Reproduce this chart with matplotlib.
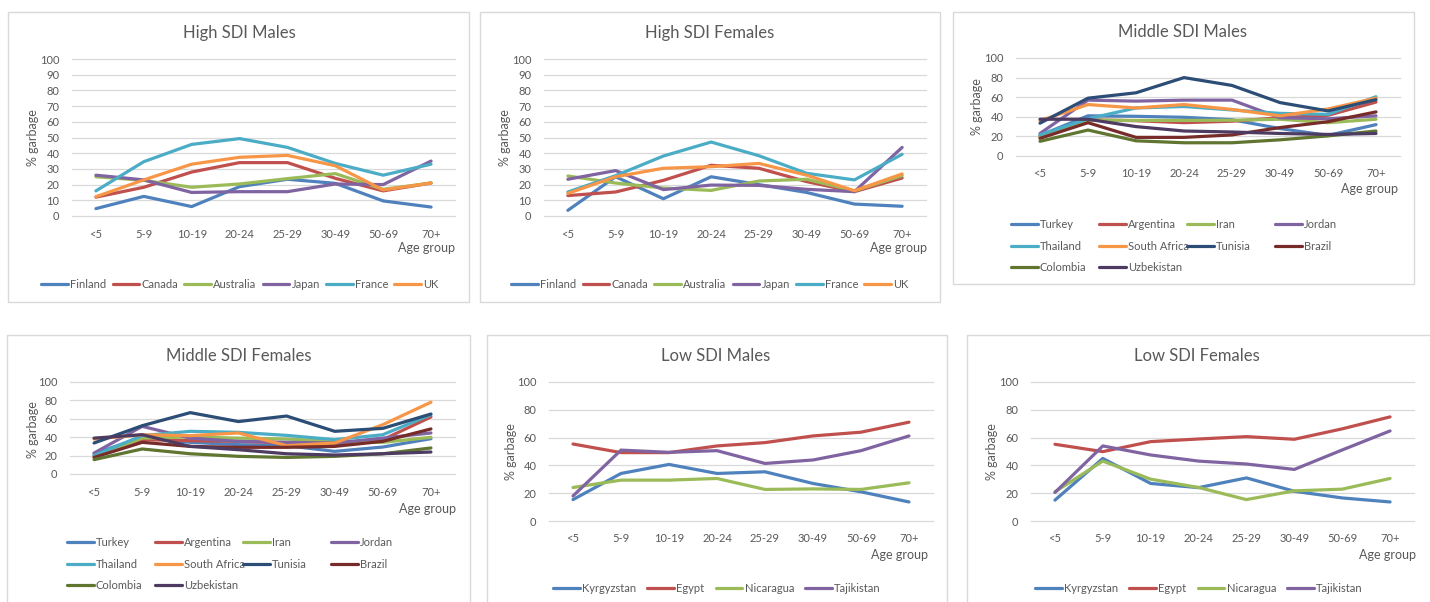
import matplotlib
matplotlib.use("Agg")
import matplotlib.pyplot as plt
from matplotlib.patches import Rectangle

plt.rcParams['font.family'] = ['Lato', 'DejaVu Sans']

W, H = 1430, 602

age_groups = ["<5", "5-9", "10-19", "20-24", "25-29", "30-49", "50-69", "70+"]

high_countries = ["Finland", "Canada", "Australia", "Japan", "France", "UK"]
high_colors = ["#4F81BD", "#C0504D", "#9BBB59", "#8064A2", "#4BACC6", "#F79646"]

high_males = {
    "Finland":   [4.7, 12.5, 6.0, 18.7, 23.4, 20.8, 9.6, 5.7],
    "Canada":    [12.0, 18.3, 28.0, 34.0, 34.0, 24.0, 16.0, 21.0],
    "Australia": [25.0, 22.7, 18.3, 20.4, 23.8, 27.0, 17.0, 21.0],
    "Japan":     [26.0, 23.0, 15.0, 15.5, 15.5, 20.4, 20.0, 35.0],
    "France":    [16.0, 34.6, 45.6, 49.3, 43.7, 33.5, 26.0, 33.0],
    "UK":        [12.3, 23.0, 33.0, 37.4, 38.6, 32.0, 16.6, 21.0],
}

high_females = {
    "Finland":   [3.6, 25.0, 11.0, 25.0, 20.0, 15.0, 7.6, 6.2],
    "Canada":    [13.0, 15.3, 22.7, 32.3, 30.4, 21.9, 15.5, 24.2],
    "Australia": [25.5, 21.0, 17.8, 16.3, 22.3, 23.4, 16.0, 25.7],
    "Japan":     [23.4, 28.9, 16.8, 19.7, 19.5, 17.0, 15.5, 43.7],
    "France":    [15.3, 25.7, 38.2, 47.1, 38.4, 27.2, 23.0, 39.3],
    "UK":        [14.4, 25.0, 30.4, 31.4, 33.5, 26.0, 16.1, 26.8],
}

middle_countries = ["Turkey", "Argentina", "Iran", "Jordan", "Thailand",
                    "South Africa", "Tunisia", "Brazil", "Colombia", "Uzbekistan"]
middle_colors = ["#4F81BD", "#C0504D", "#9BBB59", "#8064A2", "#4BACC6",
                 "#F79646", "#2C4D75", "#772C2A", "#5F7530", "#4D3B62"]

middle_males = {
    "Turkey":       [21.0, 41.0, 40.5, 39.5, 37.0, 28.0, 21.0, 32.0],
    "Argentina":    [20.0, 37.0, 36.0, 34.0, 35.5, 39.0, 41.5, 55.0],
    "Iran":         [19.0, 36.5, 36.3, 36.3, 36.5, 37.5, 34.0, 37.5],
    "Jordan":       [23.0, 57.0, 56.0, 57.0, 57.0, 39.0, 38.0, 41.0],
    "Thailand":     [21.5, 38.0, 49.0, 50.5, 47.0, 43.5, 42.5, 60.5],
    "South Africa": [36.0, 52.5, 49.0, 52.5, 47.5, 41.0, 48.0, 59.0],
    "Tunisia":      [33.5, 59.0, 64.5, 80.0, 72.0, 54.5, 46.0, 57.5],
    "Brazil":       [18.0, 34.0, 19.0, 19.0, 21.5, 29.0, 35.0, 45.0],
    "Colombia":     [15.0, 26.5, 15.5, 13.5, 13.5, 16.5, 20.5, 25.5],
    "Uzbekistan":   [37.5, 37.5, 30.0, 25.5, 24.5, 23.0, 22.0, 23.0],
}

middle_females = {
    "Turkey":       [22.0, 40.2, 34.4, 31.9, 30.8, 24.6, 29.3, 38.4],
    "Argentina":    [20.0, 37.3, 36.2, 35.5, 33.7, 31.9, 37.3, 62.0],
    "Iran":         [19.0, 39.0, 40.2, 39.0, 38.0, 35.5, 34.4, 39.9],
    "Jordan":       [22.8, 51.8, 39.0, 35.5, 34.4, 33.7, 39.0, 44.6],
    "Thailand":     [20.0, 41.7, 46.4, 45.3, 42.0, 37.3, 42.7, 64.5],
    "South Africa": [38.0, 42.7, 41.7, 44.6, 30.8, 33.7, 53.6, 78.0],
    "Tunisia":      [33.7, 52.5, 66.7, 57.0, 63.0, 46.4, 49.6, 65.2],
    "Brazil":       [18.0, 34.4, 30.0, 29.0, 29.0, 30.0, 35.5, 49.0],
    "Colombia":     [15.6, 27.2, 22.0, 19.2, 18.0, 19.2, 22.0, 28.3],
    "Uzbekistan":   [39.0, 42.7, 30.0, 26.4, 22.0, 20.6, 22.0, 23.9],
}

low_countries = ["Kyrgyzstan", "Egypt", "Nicaragua", "Tajikistan"]
low_colors = ["#4F81BD", "#C0504D", "#9BBB59", "#8064A2"]

low_males = {
    "Kyrgyzstan": [15.4, 34.2, 40.7, 34.2, 35.4, 27.0, 21.0, 13.7],
    "Egypt":      [55.4, 49.2, 49.2, 54.0, 56.4, 61.2, 63.9, 71.1],
    "Nicaragua":  [24.1, 29.4, 29.4, 30.6, 22.7, 23.1, 22.7, 27.5],
    "Tajikistan": [18.0, 51.0, 49.4, 50.6, 41.4, 43.9, 50.6, 61.2],
}

low_females = {
    "Kyrgyzstan": [15.0, 45.0, 27.0, 24.0, 31.0, 21.4, 16.6, 13.7],
    "Egypt":      [55.2, 49.9, 57.1, 59.0, 60.7, 58.8, 66.3, 74.9],
    "Nicaragua":  [21.0, 43.1, 30.1, 24.1, 15.4, 21.7, 22.9, 30.6],
    "Tajikistan": [20.5, 54.0, 47.5, 43.1, 41.0, 37.1, 51.1, 64.8],
}

TEXT = "#595959"
GRID = "#D9D9D9"

fig = plt.figure(figsize=(W / 100, H / 100), dpi=100)
fig.patch.set_facecolor("white")


def fx(x):
    return x / W


def fy(y):
    return 1 - y / H


def frame(x0, y0, x1, y1):
    fig.patches.append(Rectangle((fx(x0), fy(y1)), fx(x1 - x0), (y1 - y0) / H,
                                 transform=fig.transFigure, fill=False,
                                 edgecolor=GRID, lw=1.0, zorder=0))


def panel(box, plot, title, title_xy, ylab_xy, age_xy, data, countries, colors,
          ystep):
    frame(*box)
    x0, y0, x1, y1 = plot
    ax = fig.add_axes([fx(x0), fy(y1), fx(x1 - x0), (y1 - y0) / H])
    handles = []
    for name, col in zip(countries, colors):
        ln, = ax.plot(range(len(age_groups)), data[name], color=col, lw=2.3,
                      solid_joinstyle="round", solid_capstyle="round",
                      label=name, clip_on=False)
        handles.append(ln)
    ax.set_xlim(-0.5, len(age_groups) - 0.5)
    ax.set_ylim(0, 100)
    ax.set_yticks(range(0, 101, ystep))
    ax.set_xticks(range(len(age_groups)))
    ax.set_xticklabels(age_groups)
    for s in ax.spines.values():
        s.set_visible(False)
    ax.grid(axis="y", color=GRID, lw=0.9)
    for gl in ax.get_ygridlines():
        gl.set_clip_on(False)
    ax.set_axisbelow(True)
    ax.tick_params(axis="both", length=0, labelsize=8, labelcolor=TEXT)
    ax.tick_params(axis="y", pad=9)
    ax.tick_params(axis="x", pad=9)
    fig.text(fx(title_xy[0]), fy(title_xy[1]), title, ha="center", va="center",
             fontsize=12, color=TEXT)
    fig.text(fx(ylab_xy[0]), fy(ylab_xy[1]), "% garbage", ha="center",
             va="center", rotation=90, fontsize=9, color=TEXT)
    fig.text(fx(age_xy[0]), fy(age_xy[1]), "Age group", ha="right",
             va="center", fontsize=9, color=TEXT)
    return handles


leg_kw = dict(frameon=False, fontsize=8, handlelength=2.4, handletextpad=0.2,
              borderpad=0, borderaxespad=0, labelcolor=TEXT)


def row_legend(handles, labels, cx, cy, colspace):
    fig.legend(handles, labels, loc="center", bbox_to_anchor=(fx(cx), fy(cy)),
               ncol=len(handles), columnspacing=colspace, **leg_kw)


def grid_legend(handles, labels, xs, ytop):
    for j, x in enumerate(xs):
        hs = handles[j::4]
        ls = labels[j::4]
        fig.legend(hs, ls, loc="upper left", bbox_to_anchor=(fx(x), fy(ytop)),
                   ncol=1, labelspacing=0.95, **leg_kw)


# Panel 1: High SDI Males
h = panel((8, 12, 469, 302), (72, 59, 455, 216), "High SDI Males", (239, 33),
          (33, 138), (455, 248), high_males, high_countries, high_colors, 10)
row_legend(h, high_countries, 240, 284, 0.55)

# Panel 2: High SDI Females
h = panel((480, 12, 940, 302), (544, 59, 926, 216), "High SDI Females", (710, 33),
          (505, 138), (927, 248), high_females, high_countries, high_colors, 10)
row_legend(h, high_countries, 710, 284, 0.55)

# Panel 3: Middle SDI Males
h = panel((953, 12, 1414, 284), (1016, 58, 1400, 156), "Middle SDI Males",
          (1183, 32), (977, 107), (1398, 189), middle_males, middle_countries,
          middle_colors, 20)
grid_legend(h, middle_countries, [1011, 1099, 1187, 1275], 219)

# Panel 4: Middle SDI Females
h = panel((7, 335, 470, 610), (70, 382, 455, 474), "Middle SDI Females",
          (239, 356), (33, 430), (456, 509), middle_females, middle_countries,
          middle_colors, 20)
grid_legend(h, middle_countries, [67, 155, 243, 331], 537)

# Panel 5: Low SDI Males
h = panel((487, 335, 947, 610), (549, 382, 933, 521), "Low SDI Males",
          (716, 356), (511, 452), (928, 555), low_males, low_countries,
          low_colors, 20)
row_legend(h, low_countries, 717, 588, 1.0)

# Panel 6: Low SDI Females
h = panel((967, 335, 1440, 610), (1031, 382, 1414, 521), "Low SDI Females",
          (1197, 356), (992, 452), (1416, 555), low_females, low_countries,
          low_colors, 20)
row_legend(h, low_countries, 1199, 588, 1.0)

fig.savefig("out.png", dpi=100, facecolor="white")
